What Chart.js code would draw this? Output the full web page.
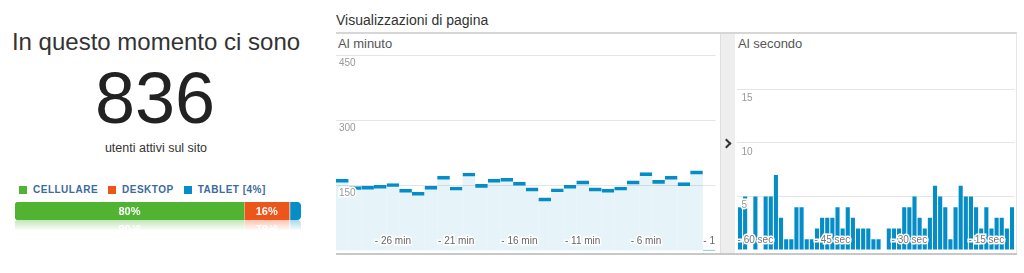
<!DOCTYPE html>
<html lang="it">
<head>
<meta charset="utf-8">
<title>Tempo reale - Panoramica</title>
<script src="https://cdn.jsdelivr.net/npm/chart.js@4.4.1/dist/chart.umd.min.js"></script>
<style>
  html, body { margin: 0; padding: 0; background: #fff; }
  body {
    width: 1024px; height: 273px; position: relative; overflow: hidden;
    font-family: "Liberation Sans", Arial, sans-serif; color: #333;
  }
  .abs { position: absolute; white-space: nowrap; }
  #headline { left: 0; width: 312px; top: 30px; text-align: center; font-size: 24px; line-height: 24px; color: #333; }
  #active { left: 0; width: 310px; top: 62px; text-align: center; font-size: 72px; line-height: 72px; color: #222; }
  #activeNote { left: 0; width: 312px; top: 142px; text-align: center; font-size: 12.5px; line-height: 12.5px; color: #333; }
  #legend { left: 19px; top: 185px; display: flex; align-items: center; }
  #legend .item { display: flex; align-items: center; margin-right: 10px; }
  #legend .box { width: 8px; height: 8px; margin-right: 6px; }
  #legend .txt { font-size: 10px; font-weight: bold; letter-spacing: 0.5px; color: #3b6b9c; line-height: 10px; }
  #deviceWrap {
    left: 15px; top: 202px; width: 286px; height: 18px;
    -webkit-box-reflect: below 0px linear-gradient(to bottom, transparent 40%, rgba(255,255,255,0.35));
  }
  #panelTitle { left: 336px; top: 13px; font-size: 14px; line-height: 14px; color: #333; }
  #topLine { left: 336px; top: 32px; width: 681px; height: 2px; background: #d6d6d6; }
  #rightLine { left: 1016px; top: 33px; width: 1px; height: 221px; background: #e6e6e6; }
  #baseLine { left: 336px; top: 253px; width: 681px; height: 2px; background: #c8c8c8; }
  .subTitle { top: 37px; font-size: 13px; line-height: 13px; color: #555; }
  #band { left: 720px; top: 34px; width: 15px; height: 219px; background: #eeeeee; border-left: 1px solid #dedede; box-sizing: border-box; }
  #chevron { left: 723px; top: 140px; width: 5px; height: 5px; border-top: 2px solid #333; border-right: 2px solid #333; transform: rotate(45deg); }
  canvas { position: absolute; }
</style>
</head>
<body>
  <div class="abs" id="headline">In questo momento ci sono</div>
  <div class="abs" id="active">836</div>
  <div class="abs" id="activeNote">utenti attivi sul sito</div>
  <div class="abs" id="legend"></div>
  <div class="abs" id="deviceWrap"><canvas id="deviceChart" width="286" height="18"></canvas></div>

  <div class="abs" id="panelTitle">Visualizzazioni di pagina</div>
  <div class="abs" id="topLine"></div>
  <div class="abs subTitle" style="left:338px">Al minuto</div>
  <div class="abs subTitle" style="left:738px">Al secondo</div>
  <div class="abs" id="band"></div>
  <div class="abs" id="chevron"></div>
  <div class="abs" id="rightLine"></div>
  <canvas id="minuteChart" width="383" height="215" style="left:336px;top:45px"></canvas>
  <canvas id="secondChart" width="280" height="215" style="left:736px;top:45px"></canvas>
  <div class="abs" id="baseLine"></div>

<script>
// Dati dispositivi (utenti attivi)
const deviceLabels = ["CELLULARE", "DESKTOP", "TABLET [4%]"];
const deviceShares = [80, 16, 4];
const deviceColors = ["#50b432", "#ed561b", "#058dc7"];

// Visualizzazioni al minuto (ultimi 30 minuti)
const minuteLabels = [-30, -29, -28, -27, -26, -25, -24, -23, -22, -21, -20, -19, -18, -17, -16,
  -15, -14, -13, -12, -11, -10, -9, -8, -7, -6, -5, -4, -3, -2, -1];
const minuteViews = [165, 148, 149, 151, 155, 142, 135, 149, 172, 147, 179, 153, 165, 167, 158,
  145, 122, 143, 151, 161, 145, 142, 147, 161, 180, 162, 172, 157, 184, 2];
const minuteTicks = { "-26": "- 26 min", "-21": "- 21 min", "-16": "- 16 min", "-11": "- 11 min", "-6": "- 6 min", "-1": "- 1" };

// Visualizzazioni al secondo
const secondLabels = [-63, -62, -61, -60, -59, -58, -57, -56, -55, -54, -53, -52, -51, -50, -49, -48, -47, -46,
  -45, -44, -43, -42, -41, -40, -39, -38, -37, -36, -35, -34, -33, -32, -31, -30, -29, -28,
  -27, -26, -25, -24, -23, -22, -21, -20, -19, -18, -17, -16, -15, -14, -13, -12, -11, -10];
const secondViews = [4, 5, 0, 5, 0, 5, 5, 7, 3, 1, 1, 4, 4, 1, 1, 2, 3, 3,
  3, 4, 2, 4, 3, 2, 2, 2, 1, 1, 0, 2, 2, 2, 4, 4, 5, 3,
  2, 3, 6, 5, 4, 1, 4, 6, 5, 5, 4, 2, 4, 2, 3, 3, 2, 4];
const secondTicks = { "-60": "- 60 sec", "-45": "- 45 sec", "-30": "- 30 sec", "-15": "- 15 sec" };

Chart.defaults.font.family = '"Liberation Sans", Arial, sans-serif';
Chart.defaults.animation = false;

// Legenda HTML
const legend = document.getElementById("legend");
deviceLabels.forEach((label, i) => {
  const item = document.createElement("div");
  item.className = "item";
  item.innerHTML = `<span class="box" style="background:${deviceColors[i]}"></span><span class="txt">${label}</span>`;
  legend.appendChild(item);
});

// Percentuali dentro la barra
const shareLabels = {
  id: "shareLabels",
  afterDatasetsDraw(chart) {
    const c = chart.ctx;
    c.save();
    c.font = 'bold 11px "Liberation Sans", Arial, sans-serif';
    c.fillStyle = "#fff";
    c.textAlign = "center";
    c.textBaseline = "middle";
    chart.data.datasets.forEach((ds, i) => {
      const v = ds.data[0];
      if (v < 10) return;
      const p = chart.getDatasetMeta(i).data[0].getCenterPoint();
      c.fillText(v + "%", p.x, p.y + 1);
    });
    c.restore();
  }
};

const radii = [
  { topLeft: 4, bottomLeft: 4, topRight: 0, bottomRight: 0 },
  0,
  { topLeft: 0, bottomLeft: 0, topRight: 4, bottomRight: 4 }
];

new Chart(document.getElementById("deviceChart").getContext("2d"), {
  type: "bar",
  data: {
    labels: ["utenti"],
    datasets: deviceLabels.map((label, i) => ({
      label: label,
      data: [deviceShares[i]],
      backgroundColor: deviceColors[i],
      borderColor: "#ffffff",
      borderWidth: i === 0 ? 0 : { left: 1, right: 0, top: 0, bottom: 0 },
      borderSkipped: false,
      borderRadius: radii[i],
      barPercentage: 1,
      categoryPercentage: 1
    }))
  },
  options: {
    indexAxis: "y",
    responsive: false,
    layout: { padding: 0 },
    scales: {
      x: { stacked: true, min: 0, max: 100, display: false },
      y: { stacked: true, display: false }
    },
    plugins: { legend: { display: false }, tooltip: { enabled: false } }
  },
  plugins: [shareLabels]
});

// Grafico al minuto
new Chart(document.getElementById("minuteChart").getContext("2d"), {
  type: "bar",
  data: {
    labels: minuteLabels,
    datasets: [{
      label: "Visualizzazioni al minuto",
      data: minuteViews,
      backgroundColor: "rgba(5, 141, 199, 0.1)",
      borderColor: "#058dc7",
      borderWidth: { top: 3, left: 0, right: 0, bottom: 0 },
      borderSkipped: "bottom",
      barPercentage: 1,
      categoryPercentage: 1
    }]
  },
  options: {
    responsive: false,
    layout: { padding: { top: 10, bottom: 6.7, left: 0, right: 0 } },
    scales: {
      x: {
        grid: { display: false },
        border: { display: false },
        afterFit: s => { s.height = 0; },
        ticks: {
          mirror: true, padding: 4, z: 1, autoSkip: false, maxRotation: 0, minRotation: 0,
          color: "#666", font: { size: 10 },
          textStrokeColor: "#fff", textStrokeWidth: 3,
          callback: (v, i) => minuteTicks[minuteLabels[i]] || ""
        }
      },
      y: {
        min: 0, max: 450,
        grid: { color: c => (c.tick.value === 0 ? "transparent" : "#e4e4e4"), drawTicks: false },
        border: { display: false },
        afterFit: s => { s.width = 0; },
        ticks: {
          stepSize: 150, mirror: true, padding: 3, labelOffset: 8, z: 1,
          color: "#999", font: { size: 10 },
          textStrokeColor: "#fff", textStrokeWidth: 3,
          callback: v => (v === 0 ? "" : v)
        }
      }
    },
    plugins: { legend: { display: false }, tooltip: { enabled: false } }
  }
});

// Grafico al secondo
new Chart(document.getElementById("secondChart").getContext("2d"), {
  type: "bar",
  data: {
    labels: secondLabels,
    datasets: [{
      label: "Visualizzazioni al secondo",
      data: secondViews,
      backgroundColor: "#058dc7",
      barPercentage: 0.8,
      categoryPercentage: 1
    }]
  },
  options: {
    responsive: false,
    layout: { padding: { top: 10, bottom: 6.7, left: 0, right: 0 } },
    scales: {
      x: {
        grid: { display: false },
        border: { display: false },
        afterFit: s => { s.height = 0; },
        ticks: {
          mirror: true, padding: 4, z: 1, autoSkip: false, maxRotation: 0, minRotation: 0,
          color: "#777", font: { size: 10 },
          textStrokeColor: "#fff", textStrokeWidth: 3,
          callback: (v, i) => secondTicks[secondLabels[i]] || ""
        }
      },
      y: {
        min: 0, max: 18.2,
        grid: { color: c => (c.tick.value === 0 ? "transparent" : "#e4e4e4"), drawTicks: false },
        border: { display: false },
        afterFit: s => { s.width = 0; },
        ticks: {
          stepSize: 5, includeBounds: false, mirror: true, padding: 4, labelOffset: 9, z: 1,
          color: "#999", font: { size: 10 },
          textStrokeColor: "#fff", textStrokeWidth: 3,
          callback: v => (v === 0 ? "" : v)
        }
      }
    },
    plugins: { legend: { display: false }, tooltip: { enabled: false } }
  }
});
</script>
</body>
</html>
